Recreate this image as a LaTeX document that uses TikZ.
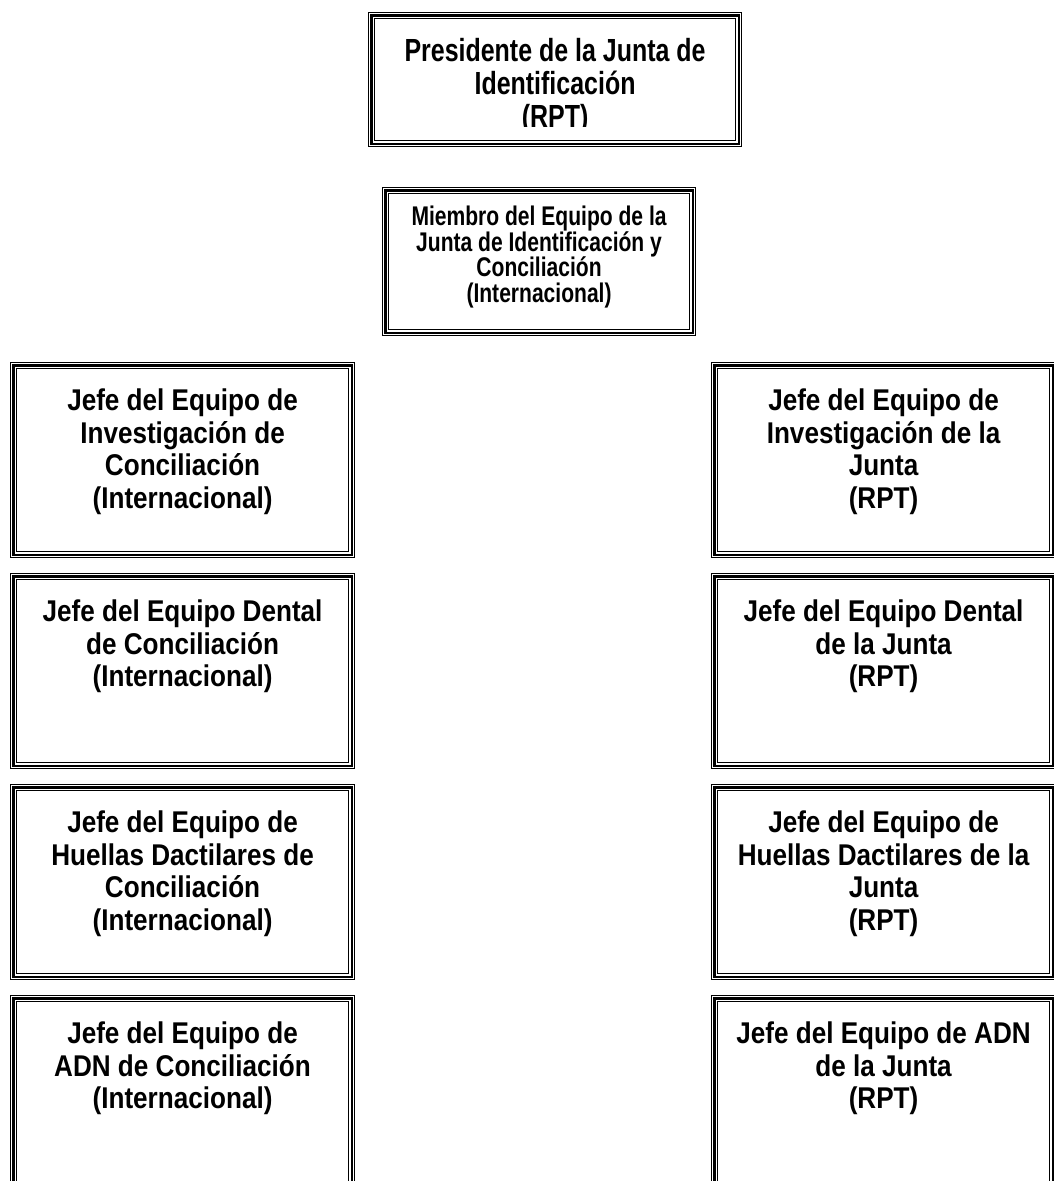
\documentclass[tikz,border=0pt]{standalone}
\usepackage{fontspec}
\usetikzlibrary{calc}
\newfontfamily\fTop{Liberation Sans}[FakeStretch=0.78]
\newfontfamily\fBox{Liberation Sans}[FakeStretch=0.87]
\begin{document}
\begin{tikzpicture}[x=1pt,y=-1pt,
  frame/.style={draw=black, line width=1.1pt, inner sep=0pt, anchor=north west},
  midln/.style={draw=black, line width=2.6pt},
  innerln/.style={draw=black, line width=1.1pt},
  boxtext/.style={anchor=north, inner sep=0pt, align=center,
    font=\fBox\bfseries\fontsize{30}{32.5}\selectfont},
  toptext/.style={anchor=north, inner sep=0pt, align=center,
    font=\fTop\bfseries\fontsize{32}{33}\selectfont},
  membtext/.style={anchor=north, inner sep=0pt, align=center,
    font=\fTop\bfseries\fontsize{27}{25.5}\selectfont},
  colbox/.style={frame, minimum width=344pt, minimum height=195pt}
]
\useasboundingbox[fill=white] (0,0) rectangle (1053,1181);

% frames
\node[frame, minimum width=373pt, minimum height=134pt] (pres) at (368,12) {};
\node[frame, minimum width=313pt, minimum height=148pt] (memb) at (382,187) {};
\node[colbox] (l1) at (10,362) {};
\node[colbox] (l2) at (10,573) {};
\node[colbox] (l3) at (10,784) {};
\node[colbox] (l4) at (10,995) {};
\node[colbox] (r1) at (711,362) {};
\node[colbox] (r2) at (711,573) {};
\node[colbox] (r3) at (711,784) {};
\node[colbox] (r4) at (711,995) {};

\foreach \n in {pres,memb,l1,l2,l3,l4,r1,r2,r3,r4}{
  \draw[midln] ([shift={(3.3,3.3)}]\n.north west) rectangle ([shift={(-3.3,-3.3)}]\n.south east);
  \draw[innerln] ([shift={(6.5,6.5)}]\n.north west) rectangle ([shift={(-6.5,-6.5)}]\n.south east);
}

% texts
\begin{scope}
  \clip ([shift={(7,7)}]pres.north west) rectangle ([shift={(-7,-21)}]pres.south east);
  \node[toptext] (prest) at ($(pres.north)+(0,26)$) {Presidente de la Junta de\\Identificación\\(RPT)};
\end{scope}
\node[membtext] (membt) at ($(memb.north)+(0,19)$) {Miembro del Equipo de la\\Junta de Identificación y\\Conciliación\\(Internacional)};

\node[boxtext] (l1t) at ($(l1.north)+(0,27)$) {Jefe del Equipo de\\Investigación de\\Conciliación\\(Internacional)};
\node[boxtext] (l2t) at ($(l2.north)+(0,27)$) {Jefe del Equipo Dental\\de Conciliación\\(Internacional)};
\node[boxtext] (l3t) at ($(l3.north)+(0,27)$) {Jefe del Equipo de\\Huellas Dactilares de\\Conciliación\\(Internacional)};
\node[boxtext] (l4t) at ($(l4.north)+(0,27)$) {Jefe del Equipo de\\ADN de Conciliación\\(Internacional)};

\node[boxtext] (r1t) at ($(r1.north)+(0,27)$) {Jefe del Equipo de\\Investigación de la\\Junta\\(RPT)};
\node[boxtext] (r2t) at ($(r2.north)+(0,27)$) {Jefe del Equipo Dental\\de la Junta\\(RPT)};
\node[boxtext] (r3t) at ($(r3.north)+(0,27)$) {Jefe del Equipo de\\Huellas Dactilares de la\\Junta\\(RPT)};
\node[boxtext] (r4t) at ($(r4.north)+(0,27)$) {Jefe del Equipo de ADN\\de la Junta\\(RPT)};
\end{tikzpicture}
\end{document}
